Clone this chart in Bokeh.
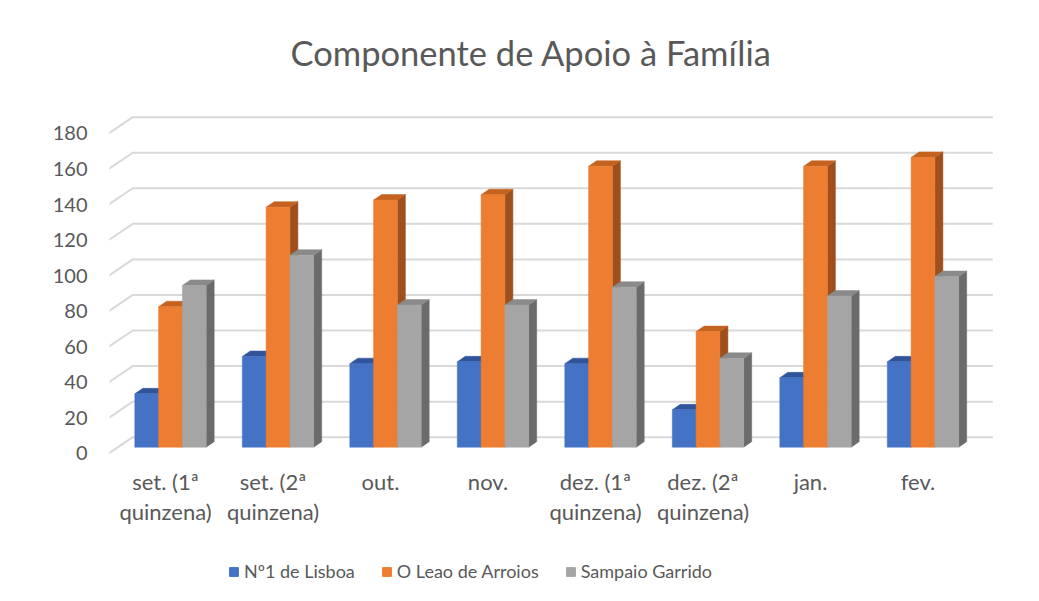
from bokeh.plotting import figure
from bokeh.layouts import column
from bokeh.models import Range1d, LinearAxis, FixedTicker, Legend, LegendItem
from bokeh.embed import file_html
from bokeh.resources import INLINE

# ---------------- data ----------------
cat_line1 = ["set. (1ª", "set. (2ª", "out.", "nov.", "dez. (1ª", "dez. (2ª", "jan.", "fev."]
cat_line2 = ["quinzena)", "quinzena)", "", "", "quinzena)", "quinzena)", "", ""]
series_names = ["Nº1 de Lisboa", "O Leao de Arroios", "Sampaio Garrido"]
lisboa = [30, 51, 47, 48, 47, 21, 39, 48]
arroios = [79, 135, 139, 142, 158, 65, 158, 163]
garrido = [91, 108, 80, 80, 90, 50, 85, 96]
y_ticks = [0, 20, 40, 60, 80, 100, 120, 140, 160, 180]

series_values = [lisboa, arroios, garrido]
front_colors = ["#4472C4", "#ED7D31", "#A5A5A5"]
top_colors = ["#30549A", "#C4621F", "#8A8A8A"]
side_colors = ["#2B4C87", "#9E4F1C", "#6B6B6B"]

TXT = "#595959"
FONT = "Lato"

# ---------------- geometry (pixels -> data units) ----------------
PX_X = 107.5   # pixels per category
PX_Y = 1.778   # pixels per value unit
bar_w = 23.8 / PX_X
ddx, ddy = 8.0 / PX_X, 5.5 / PX_Y            # bar depth
back_dx, back_dy = 16.0 / PX_X, 10.0 / PX_Y    # back wall offset
front_dx, front_dy = -8.7 / PX_X, -6.7 / PX_Y  # front edge offset

n = len(cat_line1)
x0, x1 = -0.5674, 7.6744
y0, y1 = -4.67, 197.8

W, H_MAIN, H_LEG = 1023, 550, 35
p = figure(width=W, height=H_MAIN, output_backend="svg", toolbar_location=None,
           x_range=Range1d(x0, x1), y_range=Range1d(y0, y1),
           x_axis_location=None, y_axis_location=None,
           min_border_left=109, min_border_right=28,
           min_border_top=95, min_border_bottom=95)
p.grid.visible = False
p.outline_line_color = None
p.background_fill_color = "white"
p.border_fill_color = "white"

# title
p.title.text = "Componente de Apoio à Família"
p.title.align = "left"
p.title.offset = 181
p.title.text_font = FONT
p.title.text_font_style = "normal"
p.title.text_font_size = "34.5px"
p.title.text_color = TXT
p.title.standoff = 45

# 3D gridlines (front diagonal + back wall)
gx, gy = [], []
for v in y_ticks:
    gx.append([-0.5 + front_dx, -0.5 + back_dx, n - 0.5 + back_dx])
    gy.append([v + front_dy, v + back_dy, v + back_dy])
p.multi_line(gx, gy, line_color="#d9d9d9", line_width=2)

# bars: right side face, top face, then front face, series by series
for s, vals in enumerate(series_values):
    lefts = [i + (s - 1.5) * bar_w for i in range(n)]
    rights = [l + bar_w for l in lefts]
    side_xs = [[r, r + ddx, r + ddx, r] for r in rights]
    side_ys = [[0, ddy, v + ddy, v] for v in vals]
    top_xs = [[l, r, r + ddx, l + ddx] for l, r in zip(lefts, rights)]
    top_ys = [[v, v, v + ddy, v + ddy] for v in vals]
    p.patches(side_xs, side_ys, fill_color=side_colors[s], line_color=side_colors[s], line_width=0.5)
    p.patches(top_xs, top_ys, fill_color=top_colors[s], line_color=top_colors[s], line_width=0.5)
    p.quad(left=lefts, right=rights, bottom=[0] * n, top=vals,
           fill_color=front_colors[s], line_color=front_colors[s], line_width=0.5)

# y axis (labels on the front plane)
ya_shift = 3.54
p.extra_y_ranges = {"ya": Range1d(y0 + ya_shift, y1 + ya_shift)}
yax = LinearAxis(y_range_name="ya", ticker=FixedTicker(ticks=y_ticks))
yax.axis_line_color = None
yax.major_tick_line_color = None
yax.minor_tick_line_color = None
yax.major_tick_out = 0
yax.major_tick_in = 0
yax.major_label_standoff = 22
yax.major_label_text_font = FONT
yax.major_label_text_font_size = "20px"
yax.major_label_text_color = TXT
p.add_layout(yax, "left")

# x axis: two stacked axes for the two label lines
xa_shift = 5.0 / PX_X
p.extra_x_ranges = {"xa": Range1d(x0 + xa_shift, x1 + xa_shift)}
for line_labels, standoff in ((cat_line1, 12), (cat_line2, 0)):
    xax = LinearAxis(x_range_name="xa", ticker=FixedTicker(ticks=list(range(n))))
    xax.major_label_overrides = {i: c for i, c in enumerate(line_labels)}
    xax.axis_line_color = None
    xax.major_tick_line_color = None
    xax.minor_tick_line_color = None
    xax.major_tick_out = 0
    xax.major_tick_in = 0
    xax.major_label_standoff = standoff
    xax.major_label_text_font = FONT
    xax.major_label_text_font_size = "22px"
    xax.major_label_text_color = TXT
    p.add_layout(xax, "below")

# legend strip below the chart (swatch renderers sit outside the visible range)
pl = figure(width=W, height=H_LEG, output_backend="svg", toolbar_location=None,
            x_range=Range1d(0, 1), y_range=Range1d(0, 1),
            x_axis_location=None, y_axis_location=None,
            min_border_left=0, min_border_right=0, min_border_top=0, min_border_bottom=0)
pl.grid.visible = False
pl.outline_line_color = None
pl.border_fill_color = "white"
items = []
for s in range(len(series_names)):
    r = pl.quad(left=[5], right=[6], bottom=[5], top=[6],
                fill_color=front_colors[s], line_color=front_colors[s])
    items.append(LegendItem(label=series_names[s], renderers=[r]))
legend = Legend(items=items, orientation="horizontal",
                location=(119, 3), margin=0, padding=0,
                glyph_width=11, glyph_height=11, label_standoff=5, spacing=26,
                label_text_font=FONT, label_text_font_size="18px",
                label_text_color=TXT, border_line_color=None,
                background_fill_alpha=0)
pl.add_layout(legend)

open("out.html", "w").write(file_html(column(p, pl, spacing=0), INLINE))
